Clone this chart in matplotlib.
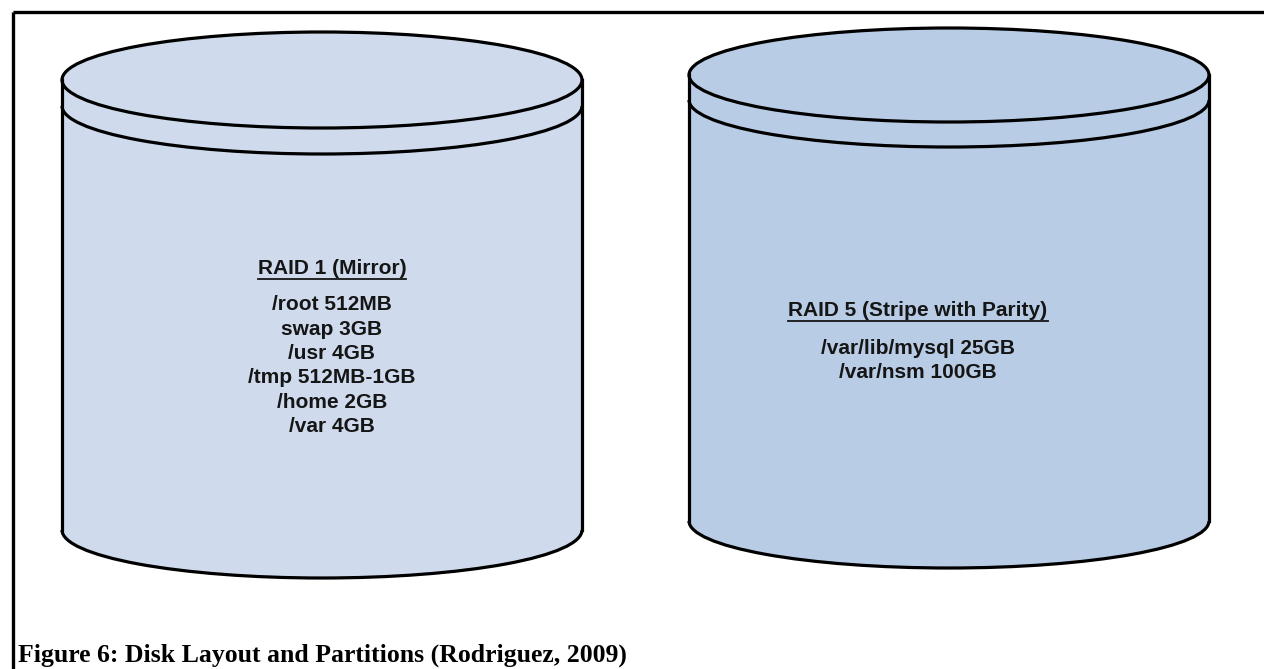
import numpy as np
import matplotlib
matplotlib.use("Agg")
import matplotlib.pyplot as plt
from matplotlib.patches import Ellipse, Polygon, Arc

# Disk groups and their partitions
titles = ["RAID 1 (Mirror)", "RAID 5 (Stripe with Parity)"]
partitions = [
    ["/root 512MB", "swap 3GB", "/usr 4GB", "/tmp 512MB-1GB", "/home 2GB", "/var 4GB"],
    ["/var/lib/mysql 25GB", "/var/nsm 100GB"],
]
caption = "Figure 6: Disk Layout and Partitions (Rodriguez, 2009)"

# cylinder geometry in pixels: center x, half width, top y, bottom y, ry, band offset
geom = [
    dict(cx=322, rx=260, top=80, bot=530, ry=48, band=26, fill="#cfdbed", tx=332, ty=268, ly=305),
    dict(cx=949, rx=260, top=75, bot=521, ry=47, band=25, fill="#b9cce5", tx=918, ty=310, ly=348),
]
line_step = 24.3

W, H = 1264, 669
fig = plt.figure(figsize=(W / 100, H / 100), dpi=100)
ax = fig.add_axes([0, 0, 1, 1])
ax.set_xlim(0, W)
ax.set_ylim(H, 0)
ax.axis("off")

lw = 2.3
# frame (top and left only)
ax.plot([13, W], [12, 12], color="black", lw=2.4, solid_capstyle="butt")
ax.plot([13, 13], [12, H], color="black", lw=2.4, solid_capstyle="butt")

for g, title, parts in zip(geom, titles, partitions):
    cx, rx, top, bot, ry = g["cx"], g["rx"], g["top"], g["bot"], g["ry"]
    t = np.linspace(0, np.pi, 200)
    # body outline: upper half of top ellipse, right side, lower half of bottom ellipse
    upper = np.column_stack([cx - rx * np.cos(t), top - ry * np.sin(t)])
    lower = np.column_stack([cx + rx * np.cos(t), bot + ry * np.sin(t)])
    body = Polygon(np.vstack([upper, lower]), closed=True, facecolor=g["fill"],
                   edgecolor="none", zorder=1)
    ax.add_patch(body)
    # outlines
    ax.add_patch(Ellipse((cx, top), 2 * rx, 2 * ry, facecolor="none",
                         edgecolor="black", lw=lw, zorder=2))
    ax.add_patch(Arc((cx, top + g["band"]), 2 * rx, 2 * ry, theta1=0, theta2=180,
                     edgecolor="black", lw=lw, zorder=2))
    ax.add_patch(Arc((cx, bot), 2 * rx, 2 * ry, theta1=0, theta2=180,
                     edgecolor="black", lw=lw, zorder=2))
    ax.plot([cx - rx, cx - rx], [top, bot], color="black", lw=lw, zorder=2)
    ax.plot([cx + rx, cx + rx], [top, bot], color="black", lw=lw, zorder=2)

    ht = ax.text(g["tx"], g["ty"], title, ha="center", va="center", fontsize=15,
                 fontweight="bold", family="Liberation Sans", color="#151515", zorder=3)
    g["title_text"] = ht
    for i, p in enumerate(parts):
        ax.text(g["tx"], g["ly"] + i * line_step, p, ha="center", va="center",
                fontsize=15, fontweight="bold", family="Liberation Sans",
                color="#151515", zorder=3)

ax.text(18, 662, caption, ha="left", va="baseline", fontsize=18.5, fontweight="bold",
        family="Liberation Serif", color="black")

# underline the group titles
fig.canvas.draw()
inv = ax.transData.inverted()
for g in geom:
    bb = g["title_text"].get_window_extent()
    (x0, y0), (x1, y1) = inv.transform([[bb.x0, bb.y0], [bb.x1, bb.y1]])
    ax.plot([x0, x1], [y0 + 1, y0 + 1], color="#151515", lw=1.3, zorder=3)

fig.savefig("out.png", dpi=100)
